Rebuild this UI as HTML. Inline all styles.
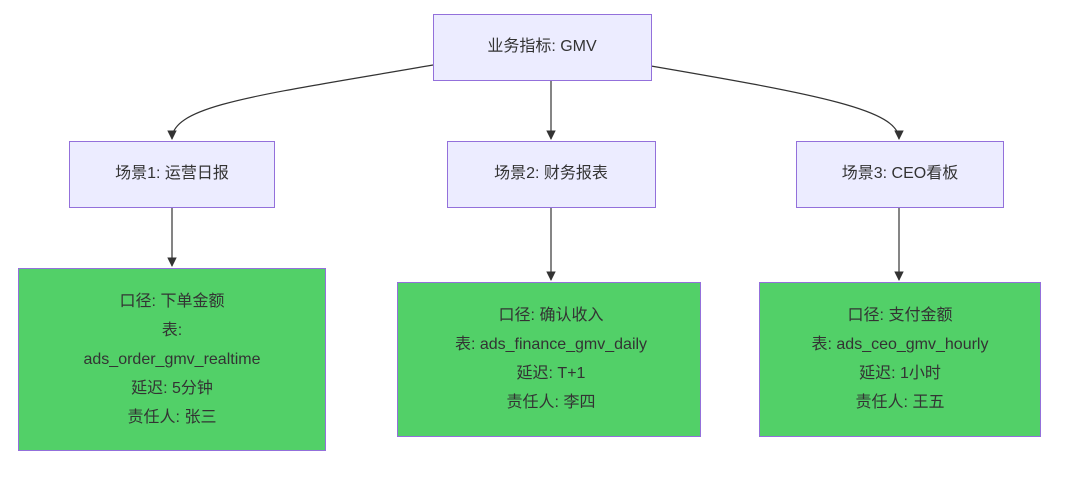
<!DOCTYPE html>
<html><head><meta charset="utf-8"><style>
html,body{margin:0;padding:0;background:#fff;}
svg{display:block;}
text{font-family:"Liberation Sans","Noto Sans CJK SC",sans-serif;font-size:16px;fill:#333;text-anchor:middle;dominant-baseline:middle;}
</style></head><body>
<svg width="1080" height="480" viewBox="0 0 1080 480" xmlns="http://www.w3.org/2000/svg">
<defs><marker id="a" viewBox="0 0 10 10" refX="9" refY="5" markerWidth="8" markerHeight="8" orient="auto"><path d="M0,0L10,5L0,10z" fill="#333"/></marker></defs>
<g fill="none" stroke="#333" stroke-width="1.2">
<path d="M433,65 C260,95 172,105 172,139" marker-end="url(#a)"/>
<path d="M551,80 L551,139" marker-end="url(#a)"/>
<path d="M651,66 C820,95 899,110 899,139" marker-end="url(#a)"/>
<path d="M172,207 L172,266" marker-end="url(#a)"/>
<path d="M551,207 L551,280" marker-end="url(#a)"/>
<path d="M899,207 L899,280" marker-end="url(#a)"/>
</g>
<g stroke="#9370db" stroke-width="1">
<rect x="433.5" y="14.5" width="218" height="66" fill="#ececff"/>
<rect x="69.5" y="141.5" width="205" height="66" fill="#ececff"/>
<rect x="447.5" y="141.5" width="208" height="66" fill="#ececff"/>
<rect x="796.5" y="141.5" width="207" height="66" fill="#ececff"/>
<rect x="18.5" y="268.5" width="307" height="182" fill="#52d068"/>
<rect x="397.5" y="282.5" width="303" height="154" fill="#52d068"/>
<rect x="759.5" y="282.5" width="281" height="154" fill="#52d068"/>
</g>
<text x="542" y="47">业务指标: GMV</text>
<text x="172" y="174">场景1: 运营日报</text>
<text x="551" y="174">场景2: 财务报表</text>
<text x="900" y="174">场景3: CEO看板</text>
<text x="172" y="302">口径: 下单金额</text>
<text x="172" y="331">表:</text>
<text x="172" y="360">ads_order_gmv_realtime</text>
<text x="172" y="389">延迟: 5分钟</text>
<text x="172" y="418">责任人: 张三</text>
<text x="551" y="316">口径: 确认收入</text>
<text x="551" y="345">表: ads_finance_gmv_daily</text>
<text x="551" y="374">延迟: T+1</text>
<text x="551" y="403">责任人: 李四</text>
<text x="900" y="316">口径: 支付金额</text>
<text x="900" y="345">表: ads_ceo_gmv_hourly</text>
<text x="900" y="374">延迟: 1小时</text>
<text x="900" y="403">责任人: 王五</text>
</svg>
</body></html>
